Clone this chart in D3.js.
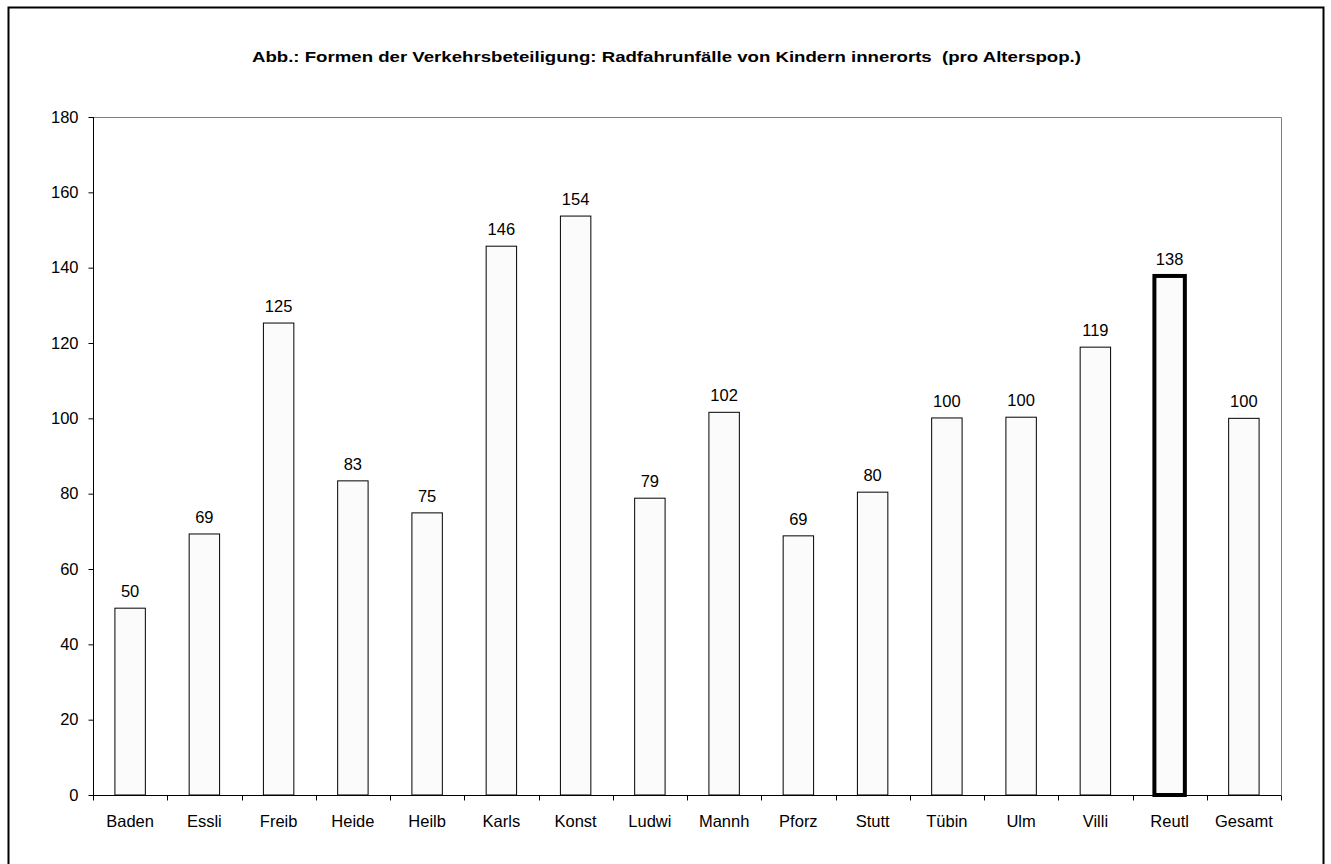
<!DOCTYPE html>
<html>
<head>
<meta charset="utf-8">
<script src="https://cdn.jsdelivr.net/npm/d3@7/dist/d3.min.js"></script>
<style>
  html, body { margin: 0; padding: 0; background: #fff; }
  text { font-family: "Liberation Sans", Arial, sans-serif; fill: #000; }
</style>
</head>
<body>
<script>
// Cities (abbreviated) and index values for child cycling accidents in built-up areas
const categories = ["Baden", "Essli", "Freib", "Heide", "Heilb", "Karls", "Konst", "Ludwi",
                    "Mannh", "Pforz", "Stutt", "Tübin", "Ulm", "Villi", "Reutl", "Gesamt"];
const values = [49.6, 69.3, 125.3, 83.4, 74.9, 145.7, 153.7, 78.8,
                101.6, 68.8, 80.4, 100.1, 100.3, 118.9, 137.8, 100.0];
const highlighted = ["Reutl"];
const yTicks = [0, 20, 40, 60, 80, 100, 120, 140, 160, 180];
const title = "Abb.: Formen der Verkehrsbeteiligung: Radfahrunfälle von Kindern innerorts  (pro Alterspop.)";

const W = 1331, H = 864;
const plot = { left: 93, top: 117, right: 1281, bottom: 795 };
const fontSize = "16.5px";

const svg = d3.select("body").append("svg")
  .attr("width", W).attr("height", H);

// outer frame (bottom edge runs off the canvas)
svg.append("rect")
  .attr("x", 8.5).attr("y", 7.5)
  .attr("width", 1315).attr("height", 870)
  .attr("fill", "#fff").attr("stroke", "#000").attr("stroke-width", 2);

svg.append("text")
  .attr("x", 252).attr("y", 62)
  .attr("textLength", 829)
  .attr("lengthAdjust", "spacingAndGlyphs")
  .style("font-size", "15px").style("font-weight", "bold")
  .style("white-space", "pre")
  .text(title);

const x = d3.scaleBand().domain(categories)
  .range([plot.left, plot.right]).paddingInner(0).paddingOuter(0);
const y = d3.scaleLinear().domain([0, 180]).range([plot.bottom, plot.top]);

// plot area border (top and right in grey)
svg.append("path")
  .attr("d", `M${plot.left},${plot.top + 0.5}H${plot.right + 0.5}V${plot.bottom}`)
  .attr("fill", "none").attr("stroke", "#808080").attr("stroke-width", 1);

// bars
const barW = x.bandwidth() * 0.41;
svg.append("g").selectAll("rect")
  .data(categories)
  .join("rect")
  .attr("x", (d) => x(d) + (x.bandwidth() - barW) / 2)
  .attr("y", (d, i) => y(values[i]))
  .attr("width", barW)
  .attr("height", (d, i) => y(0) - y(values[i]))
  .attr("fill", "#fbfbfb")
  .attr("stroke", "#000")
  .attr("stroke-width", (d) => highlighted.includes(d) ? 4 : 1);

// value labels
svg.append("g").selectAll("text")
  .data(categories)
  .join("text")
  .attr("x", (d) => x(d) + x.bandwidth() / 2)
  .attr("y", (d, i) => y(values[i]) - 11)
  .attr("text-anchor", "middle")
  .style("font-size", fontSize)
  .text((d, i) => Math.round(values[i]));

// y axis
const yAxis = svg.append("g")
  .attr("transform", `translate(${plot.left + 0.5},0)`)
  .call(d3.axisLeft(y).tickValues(yTicks).tickSize(5).tickPadding(10));
yAxis.selectAll("text").style("font-size", fontSize);
yAxis.select(".domain").attr("d", `M0,${plot.top}V${plot.bottom}`);

// x axis with ticks at category boundaries
const xg = svg.append("g").attr("transform", `translate(0,${plot.bottom + 0.5})`);
xg.append("line")
  .attr("x1", plot.left).attr("x2", plot.right + 0.5)
  .attr("stroke", "#000");
const bounds = categories.map((d) => x(d)).concat([plot.right]);
xg.selectAll("line.tick")
  .data(bounds)
  .join("line").attr("class", "tick")
  .attr("x1", (d) => Math.round(d) + 0.5).attr("x2", (d) => Math.round(d) + 0.5)
  .attr("y1", 0).attr("y2", 5)
  .attr("stroke", "#000");
xg.selectAll("text")
  .data(categories)
  .join("text")
  .attr("x", (d) => x(d) + x.bandwidth() / 2)
  .attr("y", 31.5)
  .attr("text-anchor", "middle")
  .style("font-size", fontSize)
  .text((d) => d);
</script>
</body>
</html>
